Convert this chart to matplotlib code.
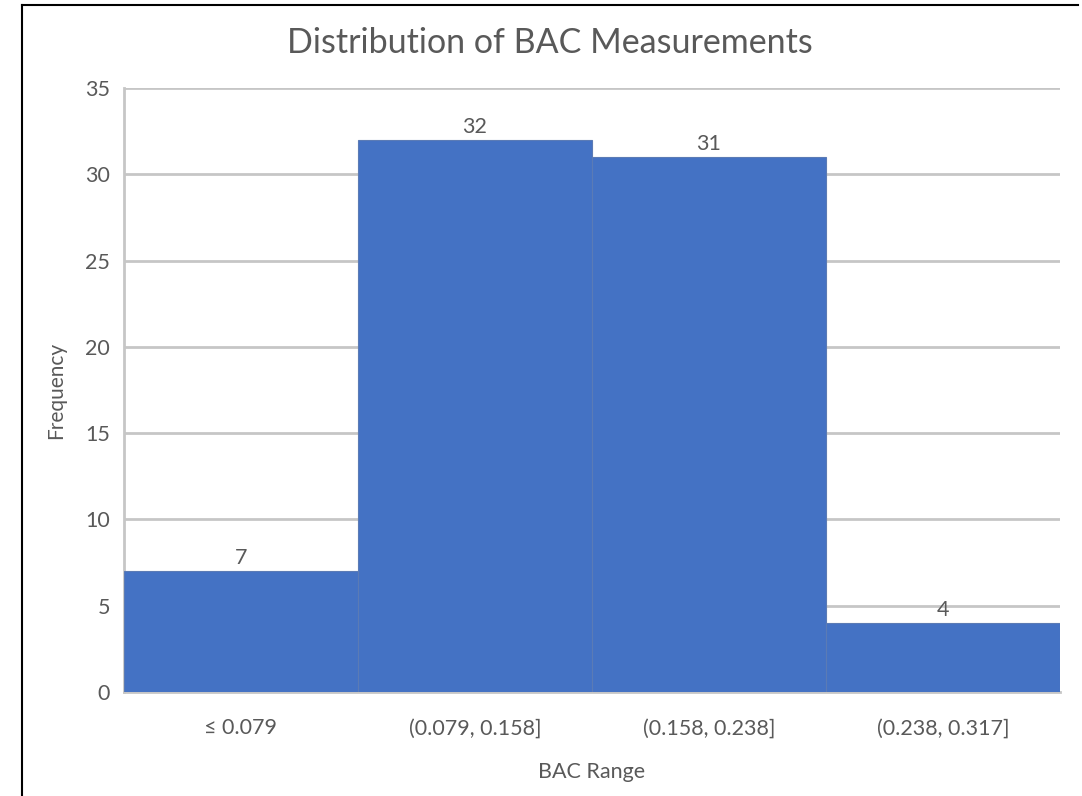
import matplotlib.pyplot as plt
from matplotlib.lines import Line2D

plt.rcParams['font.family'] = ['Lato', 'DejaVu Sans']

bins = ["\u2264 0.079", "(0.079, 0.158]", "(0.158, 0.238]", "(0.238, 0.317]"]
counts = [7, 32, 31, 4]
y_ticks = [0, 5, 10, 15, 20, 25, 30, 35]

text_color = "#595959"
grid_color = "#c6c6c6"
bar_color = "#4472c4"

fig = plt.figure(figsize=(10.82, 7.96), dpi=100)
ax = fig.add_axes([124 / 1082, 1 - 692 / 796, (1060 - 124) / 1082, (692 - 88) / 796])

x = list(range(len(bins)))
bars = ax.bar(x, counts, width=1.0, color=bar_color, edgecolor="#5b7bb5",
              linewidth=0.8, zorder=3)
ax.set_xlim(-0.5, len(bins) - 0.5)
ax.set_ylim(0, 35)
ax.set_yticks(y_ticks)
ax.set_xticks(x)
ax.set_xticklabels(bins)

ax.grid(axis="y", color=grid_color, linewidth=2, zorder=0)
for side in ["top", "right"]:
    ax.spines[side].set_visible(False)
for side in ["left", "bottom"]:
    ax.spines[side].set_color(grid_color)
    ax.spines[side].set_linewidth(2)
ax.tick_params(length=0, colors=text_color, labelsize=15.5)
ax.tick_params(axis="y", pad=10)
ax.tick_params(axis="x", pad=19)

# count labels sit just above each bar
for b, c in zip(bars, counts):
    ax.text(b.get_x() + b.get_width() / 2, c + 0.4, str(c), ha="center",
            va="baseline", fontsize=15.5, color=text_color, zorder=4)

ax.set_ylabel("Frequency", fontsize=15, color=text_color, labelpad=14)
ax.set_xlabel("BAC Range", fontsize=15.5, color=text_color, labelpad=17)
fig.text(550 / 1082, 1 - 43 / 796, "Distribution of BAC Measurements",
         ha="center", va="center", fontsize=24.5, color=text_color)

# thin black frame on the top and left edges
fig.add_artist(Line2D([22 / 1082, 1078 / 1082], [1 - 5 / 796, 1 - 5 / 796],
                      transform=fig.transFigure, color="black", linewidth=1.5))
fig.add_artist(Line2D([22 / 1082, 22 / 1082], [1 - 5 / 796, 0],
                      transform=fig.transFigure, color="black", linewidth=1.5))

fig.savefig("out.png", dpi=100)
